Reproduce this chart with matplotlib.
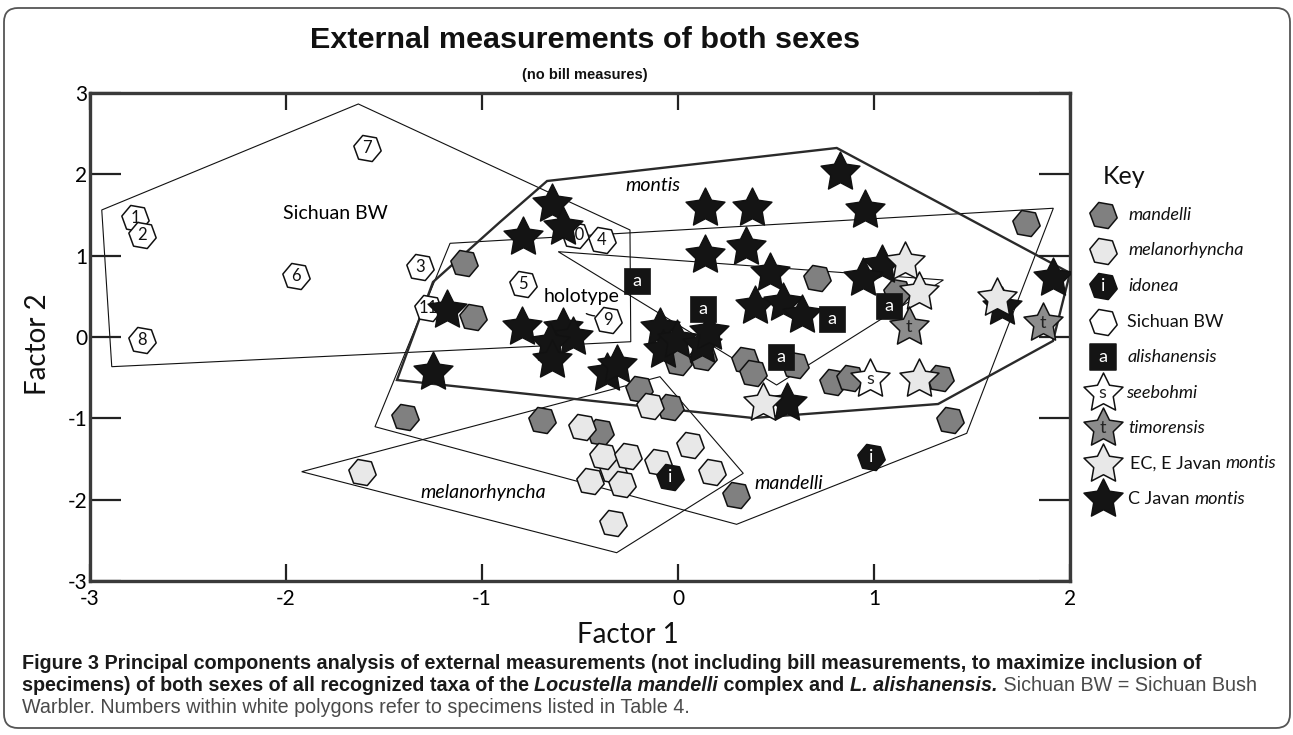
import matplotlib
matplotlib.use("Agg")
import matplotlib.pyplot as plt
from matplotlib.patches import FancyBboxPatch, Polygon
from matplotlib.transforms import IdentityTransform

W, H = 1293, 735

# ---------------- data ----------------
# Sichuan Bush Warbler specimens (numbered)
sichuan_x = [-1.588, -2.770, -2.736, -1.949, -1.316, -1.274, -2.736, -0.526, -0.389, -0.789, -0.355]
sichuan_y = [2.32, 1.46, 1.254, 0.754, 0.857, 0.353, -0.037, 1.254, 1.193, 0.652, 0.209]
sichuan_ids = ['7', '1', '2', '6', '3', '11', '8', '10', '4', '5', '9']

mandelli_x = [-1.092, -1.044, 0.707, 1.776, 1.116, -1.392, -0.696, -0.398, -0.198, -0.041,
              0.296, 0.002, 0.129, 0.342, 0.381, 0.597, 0.793, 0.878, 1.337, 1.388]
mandelli_y = [0.914, 0.242, 0.722, 1.398, 0.557, -0.980, -1.020, -1.164, -0.643, -0.864,
              -1.943, -0.303, -0.242, -0.283, -0.446, -0.344, -0.549, -0.508, -0.508, -1.020]

melano_x = [-1.614, -0.143, -0.491, -0.330, -0.381, -0.254, -0.449, -0.288, -0.100, 0.061, 0.171, -0.330]
melano_y = [-1.656, -0.848, -1.110, -1.640, -1.463, -1.463, -1.767, -1.807, -1.533, -1.328, -1.656, -2.283]

idonea_x = [-0.041, 0.985]
idonea_y = [-1.718, -1.472]

alishan_x = [-0.208, 0.126, 0.787, 1.078, 0.524]
alishan_y = [0.689, 0.341, 0.221, 0.385, -0.242]

seebohmi_x = [0.980]
seebohmi_y = [-0.520]

timor_x = [1.180, 1.860]
timor_y = [0.127, 0.176]

ecjavan_x = [1.158, 1.231, 1.626, 1.231, 0.432]
ecjavan_y = [0.926, 0.557, 0.476, -0.520, -0.808]

cjavan_x = [-0.645, -0.589, -0.789, 0.138, 0.376, 0.138, 0.347, 0.469, 0.393, 0.537, 0.631,
            -1.180, -0.798, -0.585, -0.534, -0.653, -0.645, -0.092, -0.075, -0.007, 0.120, 0.158,
            0.827, 0.954, 1.039, 0.945, 1.915, 1.651, -1.249, -0.364, -0.313, 0.554]
cjavan_y = [1.635, 1.357, 1.233, 1.583, 1.583, 1.008, 1.110, 0.791, 0.381, 0.414, 0.271,
            0.332, 0.127, 0.107, 0.004, -0.077, -0.283, 0.107, -0.160, -0.037, -0.098, 0.062,
            2.033, 1.562, 0.885, 0.722, 0.722, 0.373, -0.426, -0.446, -0.344, -0.815]

# group outlines
sichuan_hull = [(-2.940, 1.562), (-1.631, 2.865), (-0.245, 1.316), (-0.241, -0.058), (-2.889, -0.365)]
montis_hull = [(-0.668, 1.918), (0.810, 2.324), (2.0, 0.787), (1.913, -0.049), (1.327, -0.824),
               (0.383, -0.996), (-1.434, -0.529), (-1.250, 0.676), (-0.908, 1.414)]
mandelli_hull = [(-1.163, 1.152), (1.915, 1.583), (1.473, -1.184), (0.299, -2.303), (-1.546, -1.103)]
melano_hull = [(-1.920, -1.656), (-0.092, -0.488), (0.333, -1.676), (-0.313, -2.652)]
ecjavan_hull = [(-0.611, 1.049), (1.354, 0.701), (0.503, -0.590)]

group_labels = ['Sichuan BW', 'montis', 'melanorhyncha', 'mandelli']
group_label_x = [-1.75, -0.126, -0.993, 0.563]
group_label_y = [1.52, 1.857, -1.909, -1.799]

x_ticks = [-3, -2, -1, 0, 1, 2]
y_ticks = [-3, -2, -1, 0, 1, 2, 3]

key_labels = ['mandelli', 'melanorhyncha', 'idonea', 'Sichuan BW', 'alishanensis',
              'seebohmi', 'timorensis', 'EC, E Javan montis', 'C Javan montis']

# ---------------- styling ----------------
plt.rcParams['font.family'] = ['Lato', 'DejaVu Sans']
plt.rcParams['axes.unicode_minus'] = False
COND = ['Liberation Sans Narrow', 'DejaVu Sans Condensed', 'Liberation Sans']

HEX = (6, 0, 20)
STAR = (5, 1, 0)
S_HEX, S_STAR, S_SQ = 400, 870, 370
EDGE = '#111111'
GRAY = '#808080'
LIGHT = '#e8e8e8'
BLACK = '#141414'

fig = plt.figure(figsize=(W / 100, H / 100), dpi=100)
renderer = fig.canvas.get_renderer()

ax = fig.add_axes([90 / W, 1 - 581 / H, (1070 - 90) / W, (581 - 93) / H])
ax.set_xlim(-3, 2)
ax.set_ylim(-3, 3)
for sp in ax.spines.values():
    sp.set_linewidth(2.4)
    sp.set_color('#3a3a3a')
ax.set_xticks(x_ticks)
ax.set_yticks(y_ticks)
ax.tick_params(axis='x', direction='in', length=12, width=1.6, top=True, bottom=True,
               labelsize=15, pad=6, color='#222222')
ax.tick_params(axis='y', direction='in', length=22, width=1.6, left=True, right=True,
               labelsize=15, pad=2, color='#222222')

# outlines
for pts in (sichuan_hull, mandelli_hull, melano_hull, ecjavan_hull):
    ax.add_patch(Polygon(pts, closed=True, fill=False, ec='#111111', lw=0.8, zorder=1))
ax.add_patch(Polygon(montis_hull, closed=True, fill=False, ec='#2a2a2a', lw=1.7, zorder=1))

for lab, lx, ly in zip(group_labels, group_label_x, group_label_y):
    ax.text(lx, ly, lab, fontsize=14, ha='center', va='center',
            fontstyle='normal' if lab == 'Sichuan BW' else 'italic', zorder=2)

# markers
ax.scatter(mandelli_x, mandelli_y, s=S_HEX, marker=HEX, fc=GRAY, ec=EDGE, lw=1.1, zorder=3)
ax.scatter(melano_x, melano_y, s=S_HEX, marker=HEX, fc=LIGHT, ec=EDGE, lw=1.1, zorder=3)
ax.scatter(idonea_x, idonea_y, s=S_HEX, marker=HEX, fc=BLACK, ec=EDGE, lw=1.1, zorder=3)
for x, y in zip(idonea_x, idonea_y):
    ax.text(x, y, 'i', color='white', fontsize=13, ha='center', va='center', zorder=3.1)
ax.scatter(sichuan_x, sichuan_y, s=S_HEX, marker=HEX, fc='white', ec=EDGE, lw=1.1, zorder=3)
for x, y, t in zip(sichuan_x, sichuan_y, sichuan_ids):
    ax.text(x, y, t, color='#111111', fontsize=12, ha='center', va='center', zorder=3.1)

ax.scatter(cjavan_x, cjavan_y, s=S_STAR, marker=STAR, fc=BLACK, ec=EDGE, lw=1.0, zorder=4)
ax.scatter(alishan_x, alishan_y, s=S_SQ, marker='s', fc=BLACK, ec=BLACK, lw=0.5, zorder=5)
for x, y in zip(alishan_x, alishan_y):
    ax.text(x, y, 'a', color='white', fontsize=13, ha='center', va='center', zorder=5.1)
ax.scatter(ecjavan_x, ecjavan_y, s=S_STAR, marker=STAR, fc=LIGHT, ec=EDGE, lw=1.1, zorder=6)
ax.scatter(timor_x, timor_y, s=S_STAR, marker=STAR, fc='#8c8c8c', ec=EDGE, lw=1.1, zorder=6)
for x, y in zip(timor_x, timor_y):
    ax.text(x, y, 't', color='#222222', fontsize=13, ha='center', va='center', zorder=6.1)
ax.scatter(seebohmi_x, seebohmi_y, s=S_STAR, marker=STAR, fc='white', ec=EDGE, lw=1.1, zorder=6)
for x, y in zip(seebohmi_x, seebohmi_y):
    ax.text(x, y, 's', color='#222222', fontsize=13, ha='center', va='center', zorder=6.1)

# holotype note pointing at specimen 9
ax.annotate('holotype', xy=(sichuan_x[10] - 0.07, sichuan_y[10] + 0.05),
            xytext=(-0.492, 0.504), fontsize=14, ha='center', va='center', zorder=2,
            arrowprops=dict(arrowstyle='-', lw=1.0, color='#111111',
                            connectionstyle='arc3,rad=0.6', shrinkA=6, shrinkB=0))


# ---------------- text helpers ----------------
def text_width(s, **kw):
    t1 = fig.text(0, 0, '|' + s + '|', **kw)
    t2 = fig.text(0, 0, '||', **kw)
    w = t1.get_window_extent(renderer).width - t2.get_window_extent(renderer).width
    t1.remove()
    t2.remove()
    return w


def runs_width(runs, size, family):
    return sum(text_width(s, fontsize=size, fontweight=wt, fontstyle=st, family=family)
               for s, wt, st, c in runs)


def draw_runs(x_px, y_px, runs, size, family):
    x = x_px
    for s, wt, st, c in runs:
        kw = dict(fontsize=size, fontweight=wt, fontstyle=st, family=family)
        fig.text(x / W, 1 - y_px / H, s, color=c, ha='left', va='baseline', **kw)
        x += text_width(s, **kw)
    return x


def fitted_size(runs, target, family):
    return 10 * target / runs_width(runs, 10, family)


# axis titles
fig.text(628 / W, 1 - 635 / H, 'Factor 1', fontsize=20, ha='center', va='center', color='#111111')
fig.text(38 / W, 1 - 344 / H, 'Factor 2', fontsize=20, ha='center', va='center',
         rotation=90, color='#111111')

# title block
title_runs = [('External measurements of both sexes', 'bold', 'normal', '#111111')]
ts = fitted_size(title_runs, 550, COND)
fig.text(585 / W, 1 - 40 / H, title_runs[0][0], fontsize=ts, fontweight='bold', family=COND,
         ha='center', va='center', color='#111111')
sub_runs = [('(no bill measures)', 'bold', 'normal', '#111111')]
ss = fitted_size(sub_runs, 125, COND)
fig.text(585 / W, 1 - 75 / H, sub_runs[0][0], fontsize=ss, fontweight='bold', family=COND,
         ha='center', va='center', color='#111111')

# ---------------- key ----------------
kax = fig.add_axes([1085 / W, 1 - 516.75 / H, 205 / W, (516.75 - 160) / H])
kax.set_xlim(0, 205)
kax.set_ylim(8.5, -1.55)
kax.axis('off')
kax.text(18, -1.08, 'Key', fontsize=18, ha='left', va='center', color='#111111')

key_style = [
    dict(marker=HEX, s=S_HEX, fc=GRAY, letter=None, lc=None),
    dict(marker=HEX, s=S_HEX, fc=LIGHT, letter=None, lc=None),
    dict(marker=HEX, s=S_HEX, fc=BLACK, letter='i', lc='white'),
    dict(marker=HEX, s=S_HEX, fc='white', letter=None, lc=None),
    dict(marker='s', s=S_SQ, fc=BLACK, letter='a', lc='white'),
    dict(marker=STAR, s=S_STAR, fc='white', letter='s', lc='#222222'),
    dict(marker=STAR, s=S_STAR, fc='#8c8c8c', letter='t', lc='#222222'),
    dict(marker=STAR, s=S_STAR, fc=LIGHT, letter=None, lc=None),
    dict(marker=STAR, s=S_STAR, fc=BLACK, letter=None, lc=None),
]
key_text_x = [43, 43, 43, 42, 43, 41, 43, 45, 43]
key_runs = [
    [('mandelli', 'normal', 'italic')],
    [('melanorhyncha', 'normal', 'italic')],
    [('idonea', 'normal', 'italic')],
    [('Sichuan BW', 'normal', 'normal')],
    [('alishanensis', 'normal', 'italic')],
    [('seebohmi', 'normal', 'italic')],
    [('timorensis', 'normal', 'italic')],
    [('EC, E Javan ', 'normal', 'normal'), ('montis', 'normal', 'italic')],
    [('C Javan ', 'normal', 'normal'), ('montis', 'normal', 'italic')],
]
row_px = 215.0
row_step = 35.5
for i, (st, runs, tx) in enumerate(zip(key_style, key_runs, key_text_x)):
    ec = BLACK if st['marker'] == 's' else EDGE
    kax.scatter([17.7], [i], s=st['s'], marker=st['marker'], fc=st['fc'], ec=ec, lw=1.1,
                clip_on=False)
    if st['letter']:
        kax.text(17.7, i, st['letter'], color=st['lc'], fontsize=13, ha='center', va='center')
    draw_runs(1085 + tx, row_px + row_step * i + 5,
              [(s, wt, fs, '#111111') for s, wt, fs in runs], 13, ['Lato', 'DejaVu Sans'])

# ---------------- caption ----------------
DARK = '#1a1a1a'
LIGHTTXT = '#4a4a4a'
cap1 = [('Figure 3 Principal components analysis of external measurements (not including bill '
         'measurements, to maximize inclusion of', 'bold', 'normal', DARK)]
cap2 = [('specimens) of both sexes of all recognized taxa of the ', 'bold', 'normal', DARK),
        ('Locustella mandelli', 'bold', 'italic', DARK),
        (' complex and ', 'bold', 'normal', DARK),
        ('L. alishanensis.', 'bold', 'italic', DARK),
        (' Sichuan BW = Sichuan Bush', 'normal', 'normal', LIGHTTXT)]
cap3 = [('Warbler. Numbers within white polygons refer to specimens listed in Table 4.',
         'normal', 'normal', LIGHTTXT)]
cs = fitted_size(cap1, 1178, COND)
draw_runs(22, 669, cap1, cs, COND)
draw_runs(22, 691, cap2, cs, COND)
draw_runs(22, 713, cap3, cs, COND)

# outer frame
frame = FancyBboxPatch((4, H - 728), 1286, 720, boxstyle='round,pad=0,rounding_size=14',
                       transform=IdentityTransform(), fill=False, ec='#555555', lw=1.3)
fig.add_artist(frame)

fig.savefig('out.png', dpi=100)
